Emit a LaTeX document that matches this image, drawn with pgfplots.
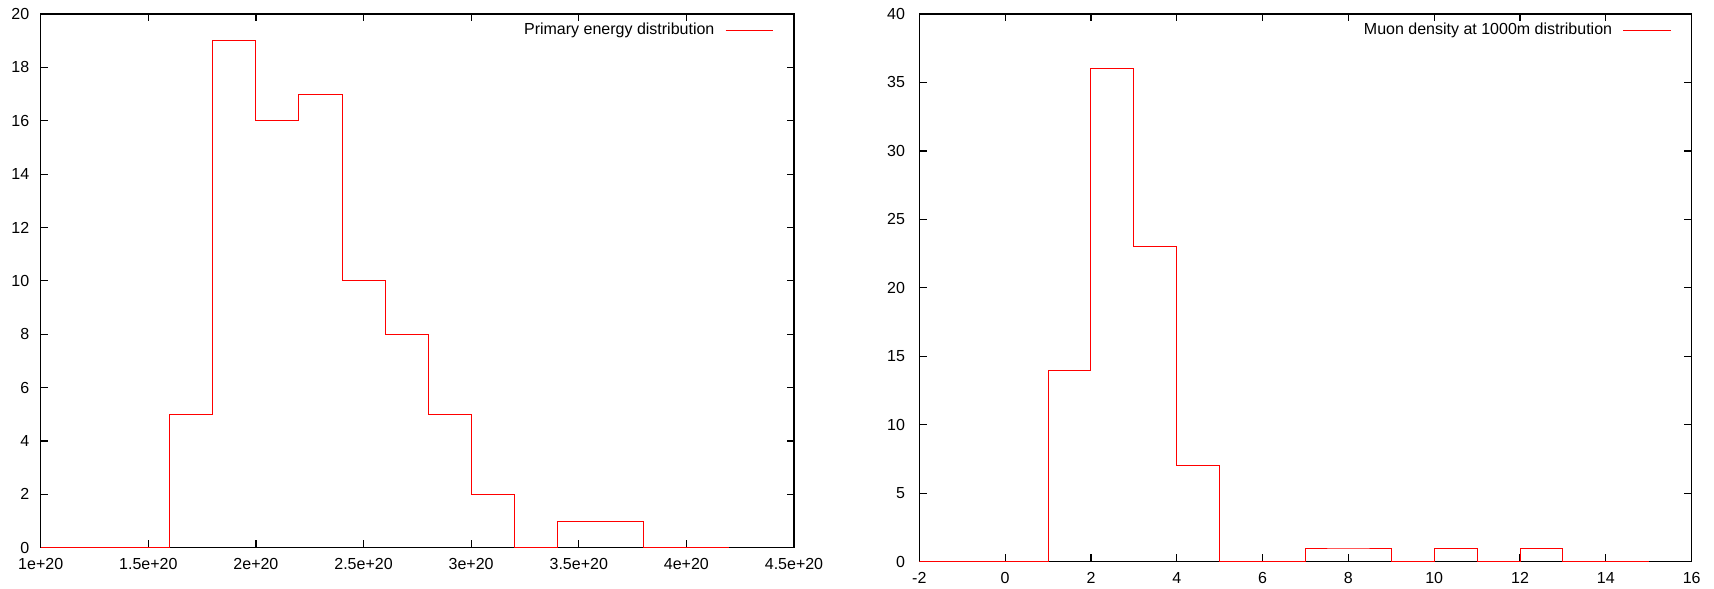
\documentclass[border=0pt]{standalone}
\usepackage{fontspec}
\setmainfont{Liberation Sans}
\usepackage{pgfplots}
\pgfplotsset{compat=1.18}

\pgfplotsset{
  gp/.style={
    scale only axis,
    anchor=north west,
    axis line style={black, line width=0.6pt},
    tick align=inside,
    xtick pos=both, ytick pos=both,
    major tick length=3.7pt,
    tick style={black, line width=0.6pt},
    /pgf/number format/assume math mode=true,
    tick label style={font=\fontsize{8}{9.6}\selectfont},
    xticklabel style={yshift=-2pt},
    legend style={draw=none, fill=none, font=\fontsize{8}{9.6}\selectfont,
      inner sep=0pt, nodes={inner sep=0pt}, column sep=5.3pt,
      at={(rel axis cs:1,1)}, anchor=east, xshift=-10pt, yshift=-8pt},
    legend plot pos=right,
    legend image code/.code={\draw[#1] (0pt,0pt) -- (23.8pt,0pt);},
  },
}

\begin{document}
\begin{tikzpicture}
\path[use as bounding box] (0,0) rectangle (857pt,-294.5pt);

% primary energy
\begin{axis}[gp,
  at={(20.35pt,-7pt)},
  width=376.65pt, height=266.85pt,
  xmin=1e20, xmax=4.5e20, ymin=0, ymax=20,
  scaled x ticks=false,
  xtick={1e20,1.5e20,2e20,2.5e20,3e20,3.5e20,4e20,4.5e20},
  xticklabels={1e+20,1.5e+20,2e+20,2.5e+20,3e+20,3.5e+20,4e+20,4.5e+20},
  ytick={0,2,...,20},
  yticklabel style={xshift=-2.2pt},
]
\addplot[red, line width=0.5pt, const plot] coordinates {
  (1.0e20,0) (1.2e20,0) (1.4e20,0) (1.6e20,5) (1.8e20,19) (2.0e20,16)
  (2.2e20,17) (2.4e20,10) (2.6e20,8) (2.8e20,5) (3.0e20,2) (3.2e20,0)
  (3.4e20,1) (3.6e20,1) (3.8e20,0) (4.0e20,0) (4.2e20,0)
};
\addlegendentry{Primary energy distribution}
\end{axis}

% muon density
\begin{axis}[gp,
  at={(459.65pt,-7pt)},
  width=386.2pt, height=273.85pt,
  xmin=-2, xmax=16, ymin=0, ymax=40,
  xtick={-2,0,...,16},
  ytick={0,5,...,40},
  yticklabel style={xshift=-3.6pt},
]
\addplot[red, line width=0.5pt, const plot] coordinates {
  (-2,0) (-1,0) (0,0) (1,14) (2,36) (3,23) (4,7) (5,0) (6,0) (7,1)
  (8,1) (9,0) (10,1) (11,0) (12,1) (13,0) (14,0) (15,0)
};
\addlegendentry{Muon density at 1000m distribution}
\end{axis}
\end{tikzpicture}
\end{document}
